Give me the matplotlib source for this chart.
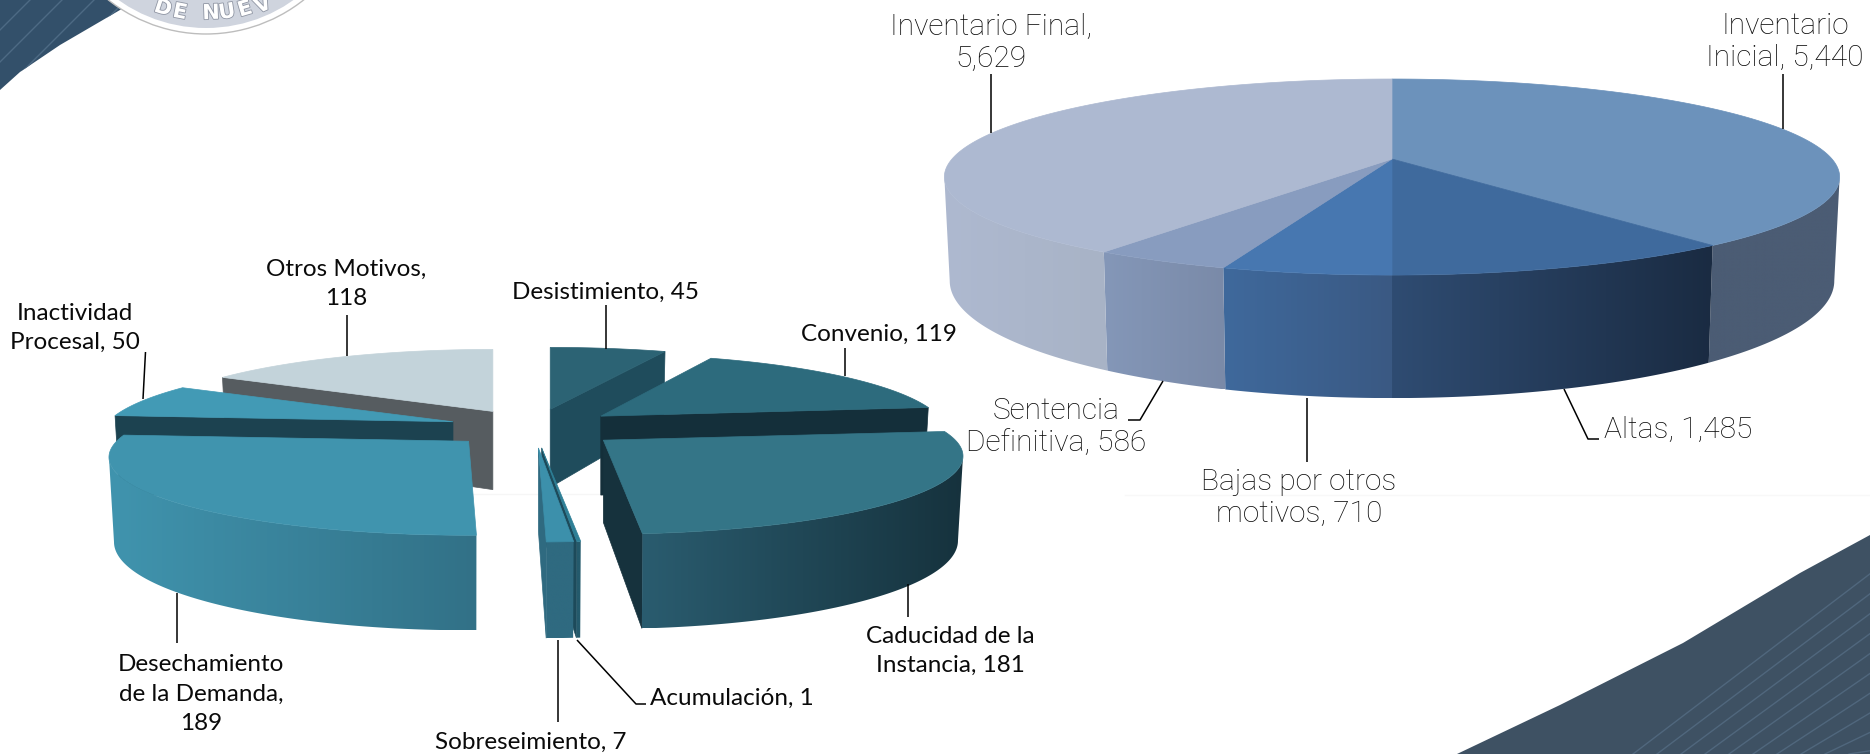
import numpy as np
import matplotlib
matplotlib.use("Agg")
import matplotlib.pyplot as plt
import matplotlib.patheffects as pe
from matplotlib.colors import to_rgb
from matplotlib.patches import Circle, Polygon

# === DATOS === #
inv_nombres = ["Inventario\nInicial", "Altas", "Bajas por otros\nmotivos",
               "Sentencia\nDefinitiva", "Inventario Final"]
inv_valores = [5440, 1485, 710, 586, 5629]

bajas_nombres = ["Desistimiento", "Convenio", "Caducidad de la\nInstancia",
                 "Acumulación", "Sobreseimiento", "Desechamiento\nde la Demanda",
                 "Inactividad\nProcesal", "Otros Motivos"]
bajas_valores = [45, 119, 181, 1, 7, 189, 50, 118]

# === ESTILO === #
inv_top = ["#6c92bb", "#3f6a9d", "#4777b0", "#889cbf", "#adb9d1"]
inv_pared = [("#4b5c74", "#4b5c74"), ("#2f4c72", "#1a2b42"), ("#3f699c", "#3a5983"),
             ("#8497b8", "#7a8aa8"), ("#aeb9d0", "#a8b3c6")]
inv_radial = ["#4b5c74", "#1f3248", "#3a5a85", "#7a8aa8", "#a8b3c6"]

bajas_top = ["#2c6374", "#2d6b7d", "#347587", "#2e7f96", "#3c90ab", "#4094ae", "#429ab5", "#c3d3da"]
bajas_pared = [("#1f4c5c", "#1f4c5c"), ("#142f3a", "#142f3a"), ("#2a5c6f", "#16323d"),
               ("#245a6c", "#245a6c"), ("#2f6a80", "#2f6a80"), ("#4094ae", "#327187"),
               ("#1c4250", "#1c4250"), ("#565c60", "#565c60")]
bajas_radial = ["#1f4c5c", "#142f3a", "#16323d", "#1d4a5a", "#2f6a80", "#327187", "#1c4250", "#565c60"]

# geometria de cada pastel en pixeles
INV_GEO = dict(cx=1392, cy=159, a=440, b=94.7, k=0.184, h=100.4, kh=0.184, enc=0.012, expl=0.0, ex=1.0)
BAJAS_GEO = dict(cx=534, cy=427.5, a=352, b=74.7, k=0.205, h=80.5, kh=0.13, enc=0.014, expl=0.26, ex=0.943)

# las rebanadas de atras salen un poco mas chicas en horizontal
inv_escala = [1, 1, 1, 1, 1]
bajas_escala = [1, 0.96, 1, 1, 1, 1, 0.98, 0.98]

# posicion de etiquetas: x, y, alineacion, separador entre nombre y valor
inv_pos = [(1785, 42, "center", " "), (1604, 430, "left", " "), (1299, 498, "center", " "),
           (1056, 427, "center", " "), (991, 43, "center", "\n")]
bajas_pos = [(606, 292, "center", " "), (879, 334, "center", " "), (950, 651, "center", " "),
             (650, 698, "left", " "), (531, 742, "center", " "), (201, 694, "center", "\n"),
             (75, 328, "center", " "), (346, 284, "center", "\n")]

inv_guias = [[(1783, 74), (1783, 129)], [(1564, 389), (1588, 439), (1599, 439)],
             [(1307, 398), (1307, 462)], [(1163, 381), (1140, 420), (1128, 420)],
             [(991, 74), (991, 133)]]
bajas_guias = [[(606, 305), (606, 349)], [(845, 348), (845, 376)], [(907.5, 584), (907.5, 617)],
               [(577, 640), (636, 704), (646, 704)], [(558, 640), (558, 722)],
               [(177, 593), (177, 643)], [(145.5, 352), (143, 399)], [(347, 315), (347, 356)]]

capa = [5]


def siguiente():
    capa[0] += 0.01
    return capa[0]


def punto(geo, ang, radio, prof, ox, oy, ev, esc_x):
    """Proyecta un punto del disco (angulo horario desde arriba) a pixeles."""
    u, v = radio * np.sin(np.radians(ang)), radio * np.cos(np.radians(ang))
    w = 1 + geo["k"] * v
    esc = (1 - geo["enc"] * prof) * esc_x
    x = ox + geo["a"] * esc * u / w
    y = oy - geo["b"] * v / w + prof * geo["h"] / (1 + geo["kh"] * (v + ev))
    return x, y


def area(pts):
    p = np.array(pts)
    return np.sum(p[:, 0] * np.roll(p[:, 1], -1) - np.roll(p[:, 0], -1) * p[:, 1])


def degradado(ax, pts, c1, c2):
    p = np.array(pts)
    t = np.linspace(0, 1, 256)[:, None]
    colores = np.array(to_rgb(c1)) * (1 - t) + np.array(to_rgb(c2)) * t
    im = ax.imshow(colores[None, :, :], extent=(p[:, 0].min(), p[:, 0].max(), p[:, 1].max(), p[:, 1].min()),
                   aspect="auto", interpolation="bilinear", zorder=siguiente())
    im.set_clip_path(Polygon(p, transform=ax.transData))


def dibujar_pastel(ax, valores, top, pared, radial, escala, geo):
    total = sum(valores)
    bordes = np.cumsum([0] + valores) / total * 360
    # origen de cada rebanada segun la explosion
    rebanadas = []
    for i in range(len(valores)):
        m = np.radians((bordes[i] + bordes[i + 1]) / 2)
        eu, ev = geo["expl"] * np.sin(m), geo["expl"] * np.cos(m)
        w = 1 + geo["k"] * ev
        ox = geo["cx"] + geo["ex"] * geo["a"] * eu / w
        oy = geo["cy"] - geo["b"] * ev / w
        rebanadas.append((oy, i, ox, ev))

    limite = np.degrees(np.arccos(-geo["k"]))
    # de atras hacia adelante
    for oy, i, ox, ev in sorted(rebanadas):
        a1, a2 = bordes[i], bordes[i + 1]
        P = lambda ang, r, z: punto(geo, ang, r, z, ox, oy, ev, escala[i])

        # paredes rectas, solo las que miran al frente (sin explosion no se ven)
        if geo["expl"] > 0:
            for ang, signo in ((a1, -1), (a2, 1)):
                quad = [P(ang, 0, 0), P(ang, 1, 0), P(ang, 1, 1), P(ang, 0, 1)]
                if area(quad) * signo > 0:
                    ax.add_patch(Polygon(quad, facecolor=radial[i], edgecolor=radial[i], lw=0.5,
                                         zorder=siguiente()))

        # pared curva con degradado horizontal
        t1, t2 = max(a1, limite), min(a2, 360 - limite)
        if t1 < t2:
            angs = np.linspace(t1, t2, max(3, int(t2 - t1) * 2))
            contorno = [P(t, 1, 0) for t in angs] + [P(t, 1, 1) for t in angs[::-1]]
            degradado(ax, contorno, pared[i][0], pared[i][1])

        # cara superior
        angs = np.linspace(a1, a2, max(3, int(a2 - a1) * 2))
        cara = [P(0, 0, 0)] + [P(t, 1, 0) for t in angs]
        ax.add_patch(Polygon(cara, facecolor=top[i], edgecolor=top[i], lw=0.5, zorder=siguiente()))


def etiquetas(ax, nombres, valores, pos, guias, fuente, tam, peso, interlinea):
    for nombre, valor, (x, y, ha, sep), guia in zip(nombres, valores, pos, guias):
        ax.text(x, y, f"{nombre},{sep}{valor:,}", ha=ha, va="center", family=fuente, fontsize=tam,
                weight=peso, color="#0a0a0a", linespacing=interlinea, zorder=30)
        g = np.array(guia)
        ax.plot(g[:, 0], g[:, 1], color="black", lw=1.1, zorder=29, solid_capstyle="butt")


def fondo(ax):
    # franja inferior derecha
    franja = Polygon([(1457, 754), (1560, 705), (1683, 643), (1800, 573), (1870, 535), (1870, 754)],
                     facecolor="#3e5163", edgecolor="none", zorder=1)
    ax.add_patch(franja)
    for n in range(11):
        l, = ax.plot([1633 + n * 24, 1875], [754, 570 + n * 20], color="#50677d", lw=1, zorder=1.5)
        l.set_clip_path(franja)

    # franja superior izquierda
    franja2 = Polygon([(0, 0), (135, 0), (120, 10), (60, 45), (20, 72), (0, 90)],
                      facecolor="#33506a", edgecolor="none", zorder=1)
    ax.add_patch(franja2)
    for n in range(5):
        l, = ax.plot([0, 30 + n * 32], [30 + n * 32, 0], color="#4d6a84", lw=1, zorder=1.5)
        l.set_clip_path(franja2)

    # escudo (solo se alcanza a ver el borde)
    ax.add_patch(Circle((206, -123), 157, facecolor="#ffffff", edgecolor="#bdbdbd", lw=1, zorder=2))
    ax.add_patch(Circle((206, -123), 151, facecolor="#cfd4de", edgecolor="none", zorder=2))
    for letra, x, y in zip("DENUEV", [163, 180, 211, 227, 245, 263], [8, 12, 13, 12, 9, 5]):
        rot = np.degrees(np.arctan((x - 206) / (y + 123)))
        ax.text(x, y, letra, ha="center", va="center", rotation=rot, family="DejaVu Sans",
                weight="bold", fontsize=15, color="white", zorder=3,
                path_effects=[pe.withStroke(linewidth=1.2, foreground="#8f95a3")])

    ax.plot([470, 630], [494, 494], color="#f6f6f6", lw=1, zorder=0)
    ax.plot([1125, 1870], [495, 495], color="#f8f8f8", lw=1, zorder=0)


fig = plt.figure(figsize=(18.7, 7.54), dpi=100)
ax = fig.add_axes([0, 0, 1, 1])
ax.set_xlim(0, 1870)
ax.set_ylim(754, 0)
ax.autoscale(False)
ax.axis("off")

fondo(ax)
dibujar_pastel(ax, inv_valores, inv_top, inv_pared, inv_radial, inv_escala, INV_GEO)
dibujar_pastel(ax, bajas_valores, bajas_top, bajas_pared, bajas_radial, bajas_escala, BAJAS_GEO)
etiquetas(ax, inv_nombres, inv_valores, inv_pos, inv_guias, "Roboto", 21.5, "light", 1.2)
etiquetas(ax, bajas_nombres, bajas_valores, bajas_pos, bajas_guias, "Lato", 17.5, "normal", 1.5)

fig.savefig("out.png", dpi=100)
plt.close(fig)
